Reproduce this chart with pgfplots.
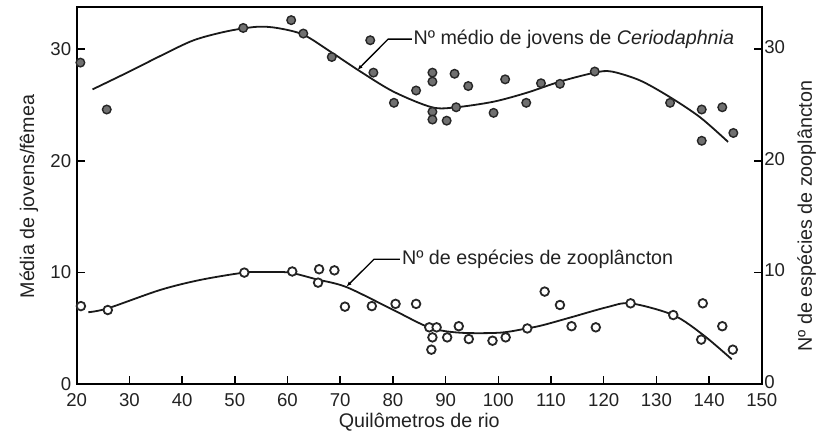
\documentclass[border=0pt]{standalone}
\usepackage{fontspec}
\setmainfont{Liberation Sans}
\usepackage{pgfplots}
\pgfplotsset{compat=1.18}
\usetikzlibrary{arrows.meta}
\definecolor{txt}{HTML}{222222}
\definecolor{dotgray}{HTML}{707070}
\newcommand{\fs}{\fontsize{18.6bp}{21bp}\selectfont}
\newcommand{\fl}{\fontsize{19.7bp}{22bp}\selectfont}
\begin{document}
\begin{tikzpicture}
\path[use as bounding box] (-76.7bp,-55.7bp) rectangle (744.3bp,384.3bp);
\pgfplotsset{
  base/.style={
    scale only axis, width=685.1bp, height=377bp,
    xmin=20, xmax=150, ymin=0, ymax=33.75,
    /pgf/number format/assume math mode=true,
    tick label style={font=\fs, text=txt},
    label style={font=\fl, text=txt},
    tick style={line width=1.5bp, black},
    major tick length=8bp,
    tick align=inside,
  }
}
\begin{axis}[base,
  axis line style={line width=2bp, black},
  xtick={20,30,...,150}, xtick pos=bottom,
  ytick={0,10,20,30}, ytick pos=both, yticklabel pos=left,
  xticklabel style={yshift=-6bp},
  yticklabel style={xshift=-2bp},
  xlabel={Quilômetros de rio},
  ylabel={Média de jovens/fêmea},
  xlabel style={at={(axis description cs:0.5,0)}, anchor=center, yshift=-37.5bp},
  ylabel style={at={(axis description cs:-0.0696,0.498)}, anchor=center, rotate=0},
  clip=false,
]
% upper series: mean number of juveniles
\addplot[only marks, mark=*, mark size=4.3bp, mark options={fill=dotgray, draw=black!85, line width=1.4bp}] coordinates {
(20.7,28.8) (25.7,24.6) (51.6,31.9) (60.7,32.6) (63.0,31.4) (68.4,29.3) (75.7,30.8) (76.3,27.9)
(80.2,25.2) (84.4,26.3) (87.5,27.9) (87.5,27.1) (87.5,24.4) (87.5,23.7) (90.2,23.6) (91.7,27.8)
(92.0,24.8) (94.3,26.7) (99.1,24.3) (101.3,27.3) (105.3,25.2) (108.1,26.95) (111.7,26.9) (118.3,28.0)
(132.6,25.2) (138.6,24.6) (138.6,21.8) (142.5,24.8) (144.6,22.5)
};
\addplot[smooth, line width=1.8bp, black!90] coordinates {
(23.0,26.4) (30.0,28.0) (35.9,29.4) (42.2,30.8) (48.5,31.6) (54.1,32.0) (58.0,31.9) (63.0,31.3)
(68.4,29.7) (73.5,28.1) (80.1,26.2) (87.4,24.8) (92.0,24.8) (99.1,25.3) (105.4,26.1) (111.7,27.1)
(118.3,27.9) (121.5,28.0) (126.9,27.2) (132.6,25.7) (138.3,23.9) (143.6,21.7)
};
% lower series: number of zooplankton species
\addplot[only marks, mark=*, mark size=4.3bp, mark options={fill=white, draw=black!85, line width=1.8bp}] coordinates {
(20.8,7.0) (25.9,6.65) (51.8,10.0) (60.9,10.1) (66.0,10.3) (65.8,9.1) (68.9,10.2) (70.9,6.95)
(76.0,7.0) (80.5,7.2) (84.4,7.2) (86.9,5.1) (88.3,5.1) (87.5,4.2) (87.3,3.1) (90.3,4.2)
(92.5,5.2) (94.4,4.05) (98.9,3.9) (101.4,4.2) (105.5,5.0) (108.8,8.3) (111.7,7.1) (113.9,5.2)
(118.5,5.1) (125.1,7.25) (133.2,6.2) (138.8,7.25) (138.5,4.0) (142.5,5.2) (144.5,3.1)
};
\addplot[smooth, line width=1.8bp, black!90] coordinates {
(22.2,6.45) (25.9,6.8) (35.8,8.44) (43.4,9.34) (51.8,10.0) (56.0,10.05) (60.4,10.0) (65.5,9.4)
(71.2,8.7) (80.1,6.65) (87.0,5.07) (92.7,4.62) (100.3,4.62) (105.4,5.0) (108.5,5.3) (114.2,6.05)
(120.6,6.9) (125.1,7.25) (133.2,6.2) (138.9,4.41) (144.3,2.24)
};
% annotations
\draw[line width=1.3bp, black, -{Latex[length=5bp,width=4bp]}] (axis cs:83.6,30.9) -- (axis cs:79.1,30.9) -- (axis cs:73.3,28.15);
\node[anchor=west, font=\fl, text=txt, inner sep=0pt] at (axis cs:83.9,30.9) {Nº médio de jovens de \textit{Ceriodaphnia}};
\draw[line width=1.3bp, black, -{Latex[length=5bp,width=4bp]}] (axis cs:81.3,11.19) -- (axis cs:76.4,11.19) -- (axis cs:71.2,8.75);
\node[anchor=west, font=\fl, text=txt, inner sep=0pt] at (axis cs:81.7,11.19) {Nº de espécies de zooplâncton};
\end{axis}
\begin{axis}[base,
  axis x line=none, axis y line*=right,
  y axis line style={draw=none},
  major tick length=0pt,
  ytick={0,10,20,30},
  yticklabel style={xshift=-1bp, yshift=2bp},
  ylabel={Nº de espécies de zooplâncton},
  ylabel style={at={(axis description cs:1.0655,0.446)}, anchor=center, rotate=0},
]
\addplot[draw=none] coordinates {(20,0) (150,0)};
\end{axis}
\end{tikzpicture}
\end{document}
